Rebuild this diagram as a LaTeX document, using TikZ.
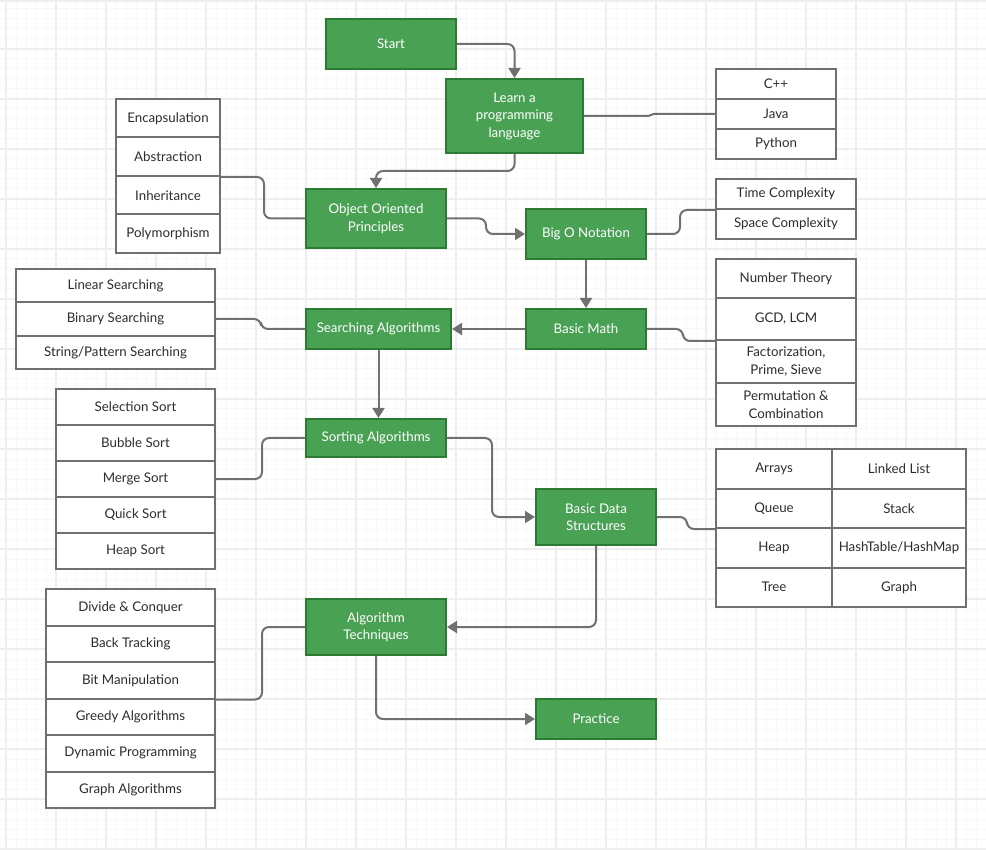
\documentclass[tikz,border=0pt]{standalone}
\usepackage{fontspec}
\setmainfont{Lato}
\usetikzlibrary{arrows.meta}

\definecolor{topicfill}{RGB}{73,161,84}
\definecolor{topicline}{RGB}{45,122,50}
\definecolor{itemline}{RGB}{112,112,112}
\definecolor{itemtext}{RGB}{45,45,45}
\definecolor{linkgray}{RGB}{112,112,112}
\definecolor{gridminor}{RGB}{248,248,248}
\definecolor{gridmajor}{RGB}{238,238,238}

\begin{document}
\begin{tikzpicture}[x=1pt,y=-1pt,
    topic/.style={draw=topicline,fill=topicfill,text=white,line width=2pt,inner sep=0pt,align=center,font=\fontsize{13.3}{17.5}\selectfont},
    item/.style={draw=itemline,fill=white,text=itemtext,line width=2pt,inner sep=0pt,align=center,font=\fontsize{13.3}{17.5}\selectfont},
    link/.style={draw=linkgray,line width=2pt,rounded corners=7pt},
    arr/.style={link,-{Triangle[width=12pt,length=10pt]}}]
        \useasboundingbox (0,0) rectangle (986,850);
        % background grid
        \foreach \x in {6,16,...,986} \draw[gridminor,line width=1pt] (\x,0) -- (\x,850);
        \foreach \y in {9,19,...,849} \draw[gridminor,line width=1pt] (0,\y) -- (986,\y);
        \foreach \x in {6,56,...,956} \draw[gridmajor,line width=1.5pt] (\x,0) -- (\x,850);
        \foreach \y in {1,49,99,...,849} \draw[gridmajor,line width=1.5pt] (0,\y) -- (986,\y);

        % main steps
        \node[topic,minimum width=130,minimum height=50] (start) at (391,44) {Start};
        \node[topic,minimum width=137,minimum height=74] (learn) at (514.5,116) {Learn a\\programming\\language};
        \node[topic,minimum width=140,minimum height=59] (oop) at (376,218.5) {Object Oriented\\Principles};
        \node[topic,minimum width=120,minimum height=50] (bigo) at (586,234) {Big O Notation};
        \node[topic,minimum width=120,minimum height=40] (math) at (586,329) {Basic Math};
        \node[topic,minimum width=145,minimum height=40] (search) at (378.5,329) {Searching Algorithms};
        \node[topic,minimum width=140,minimum height=38] (sort) at (376,438) {Sorting Algorithms};
        \node[topic,minimum width=120,minimum height=56] (ds) at (596,517) {Basic Data\\Structures};
        \node[topic,minimum width=140,minimum height=56] (tech) at (376,627) {Algorithm\\Techniques};
        \node[topic,minimum width=120,minimum height=40] (practice) at (596,719) {Practice};

        % languages
        \node[item,minimum width=120,minimum height=30] (cpp) at (776,84) {C++};
        \node[item,minimum width=120,minimum height=30] (java) at (776,114) {Java};
        \node[item,minimum width=120,minimum height=30] (python) at (776,144) {Python};

        % oop principles
        \node[item,minimum width=104,minimum height=38.5] (enc) at (168,118.25) {Encapsulation};
        \node[item,minimum width=104,minimum height=38.5] (abs) at (168,156.75) {Abstraction};
        \node[item,minimum width=104,minimum height=38.5] (inh) at (168,195.25) {Inheritance};
        \node[item,minimum width=104,minimum height=38.5] (poly) at (168,233.75) {Polymorphism};

        % complexity
        \node[item,minimum width=140,minimum height=30] (time) at (786,194) {Time Complexity};
        \node[item,minimum width=140,minimum height=30] (space) at (786,224) {Space Complexity};

        % math
        \node[item,minimum width=140,minimum height=39] (numth) at (786,278.5) {Number Theory};
        \node[item,minimum width=140,minimum height=42] (gcd) at (786,319) {GCD, LCM};
        \node[item,minimum width=140,minimum height=43] (fact) at (786,361.5) {Factorization,\\Prime, Sieve};
        \node[item,minimum width=140,minimum height=43] (perm) at (786,404.5) {Permutation \&\\Combination};

        % searching
        \node[item,minimum width=199,minimum height=33.4] (linear) at (115.5,285.7) {Linear Searching};
        \node[item,minimum width=199,minimum height=33.4] (binary) at (115.5,319) {Binary Searching};
        \node[item,minimum width=199,minimum height=33.4] (string) at (115.5,352.4) {String/Pattern Searching};

        % sorting
        \node[item,minimum width=159,minimum height=36] (selection) at (135.5,407) {Selection Sort};
        \node[item,minimum width=159,minimum height=36] (bubble) at (135.5,443) {Bubble Sort};
        \node[item,minimum width=159,minimum height=36] (merge) at (135.5,479) {Merge Sort};
        \node[item,minimum width=159,minimum height=36] (quick) at (135.5,515) {Quick Sort};
        \node[item,minimum width=159,minimum height=36] (heapsort) at (135.5,551) {Heap Sort};

        % data structures
        \node[item,minimum width=116,minimum height=39.5] (arrays) at (774,468.75) {Arrays};
        \node[item,minimum width=134,minimum height=39.5] (linked) at (899,468.75) {Linked List};
        \node[item,minimum width=116,minimum height=39.5] (queue) at (774,508.25) {Queue};
        \node[item,minimum width=134,minimum height=39.5] (stack) at (899,508.25) {Stack};
        \node[item,minimum width=116,minimum height=39.5] (heap) at (774,547.75) {Heap};
        \node[item,minimum width=134,minimum height=39.5] (hash) at (899,547.75) {HashTable/HashMap};
        \node[item,minimum width=116,minimum height=39.5] (tree) at (774,587.25) {Tree};
        \node[item,minimum width=134,minimum height=39.5] (graph) at (899,587.25) {Graph};

        % techniques
        \node[item,minimum width=169,minimum height=36.5] (divide) at (130.5,607.25) {Divide \& Conquer};
        \node[item,minimum width=169,minimum height=36.5] (back) at (130.5,643.75) {Back Tracking};
        \node[item,minimum width=169,minimum height=36.5] (bit) at (130.5,680.25) {Bit Manipulation};
        \node[item,minimum width=169,minimum height=36.5] (greedy) at (130.5,716.75) {Greedy Algorithms};
        \node[item,minimum width=169,minimum height=36.5] (dynamic) at (130.5,753.25) {Dynamic Programming};
        \node[item,minimum width=169,minimum height=36.5] (graphalg) at (130.5,789.75) {Graph Algorithms};

        % connectors
        \draw[arr] (start.east) -| (learn.north);
        \draw[link] (learn.east) -- ++(57,0) to[out=0,in=180] ++(20,-2) -- (java.west);
        \draw[arr] (learn.south) -- ++(0,17) -| (oop.north);
        \draw[link] (abs.south east) -- ++(43,0) |- (oop.west);
        \draw[arr] (oop.east) -- ++(39,0) |- (bigo.west);
        \draw[link] (bigo.east) -- ++(33,0) |- (time.south west);
        \draw[arr] (bigo.south) -- (math.north);
        \draw[arr] (math.west) -- (search.east);
        \draw[link] (math.east) -- ++(36,0) |- (gcd.south west);
        \draw[link] (binary.east) -- ++(45,0) |- (search.west);
        \draw[arr] (search.south) -- (search.south |- sort.north);
        \draw[link] (merge.east) -- ++(46,0) |- (sort.west);
        \draw[arr] (sort.east) -- ++(45,0) |- (ds.west);
        \draw[link] (ds.east) -- ++(30,0) |- (queue.south west);
        \draw[arr] (ds.south) |- (tech.east);
        \draw[link] (bit.south east) -- ++(46,0) |- (tech.west);
        \draw[arr] (tech.south) |- (practice.west);

\end{tikzpicture}
\end{document}
